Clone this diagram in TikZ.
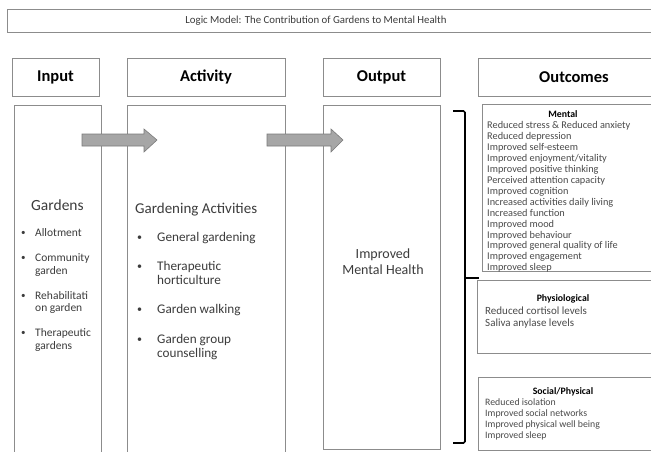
\documentclass[tikz,border=0pt]{standalone}
\usepackage{fontspec}
\setmainfont{Carlito}
\definecolor{boxgray}{HTML}{8C8C8C}
\definecolor{txtgray}{HTML}{3C3C3C}
\definecolor{listgray}{HTML}{4A4A4A}
\definecolor{arrfill}{HTML}{A6A6A6}
\definecolor{arrdraw}{HTML}{7A7A7A}
\tikzset{
  frame/.style={draw=boxgray, line width=0.7pt},
  header/.style={font=\fontsize{16.5}{18}\selectfont\bfseries, text=black},
  colhead/.style={anchor=base west, inner sep=0, text=txtgray},
  inlist/.style={anchor=base west, inner sep=0, text=txtgray, font=\fontsize{11.5}{13}\selectfont},
  actlist/.style={anchor=base west, inner sep=0, text=txtgray, font=\fontsize{13.2}{15}\selectfont},
  mlist/.style={anchor=base west, inner sep=0, text=listgray, font=\fontsize{10.3}{11}\selectfont},
  plist/.style={anchor=base west, inner sep=0, text=listgray, font=\fontsize{11}{12}\selectfont},
  slist/.style={anchor=base west, inner sep=0, text=listgray, font=\fontsize{9.8}{11}\selectfont},
  subhead/.style={anchor=base, inner sep=0, text=black, font=\fontsize{9.8}{11}\selectfont\bfseries},
  blockarrow/.style={fill=arrfill, draw=arrdraw, line width=0.6pt},
  brace/.style={draw=black, line width=1.6pt, rounded corners=1.5pt}
}
\begin{document}
\begin{tikzpicture}[x=1pt, y=-1pt]
\useasboundingbox (0,0) rectangle (651,451);
\fill[white] (0,0) rectangle (651,451);
% title
\draw[frame] (7,9) rectangle (660,32);
\node[inner sep=0, text=txtgray, font=\fontsize{10.8}{12}\selectfont] (title) at (316,20.5) {Logic Model: The Contribution of Gardens to Mental Health};
% headers
\draw[frame] (12,58) rectangle (99,96);
\node[header] (hin) at (55.5,77) {Input};
\draw[frame] (127,58) rectangle (285,96);
\node[header] (hact) at (206,77) {Activity};
\draw[frame] (323,58) rectangle (440,96);
\node[header] (hout) at (381.5,77) {Output};
\draw[frame] (478,58) rectangle (660,96);
\node[header] (houtc) at (574,77) {Outcomes};
% columns
\draw[frame] (14,105) rectangle (101,460);
\draw[frame] (127,105) rectangle (285,460);
\draw[frame] (323,105) rectangle (440,449);
% arrows
\draw[blockarrow] (82,134) -- (144,134) -- (144,129) -- (157,140) -- (144,152) -- (144,146) -- (82,146) -- cycle;
\draw[blockarrow] (267,134) -- (331,134) -- (331,129) -- (343,140) -- (331,152) -- (331,146) -- (267,146) -- cycle;
% input text
\node[colhead, font=\fontsize{15.5}{17}\selectfont] (gardens) at (31,210.5) {Gardens};
\foreach \y in {236.7,261.7,299,336.7} \node[inlist, font=\fontsize{9}{10}\selectfont] at (21,\y-1) {•};
\node[inlist] (i1) at (35,236.7) {Allotment};
\node[inlist] (i2) at (35,261.7) {Community};
\node[inlist] (i2b) at (35,274) {garden};
\node[inlist] (i3) at (35,299) {Rehabilitati};
\node[inlist] (i3b) at (35,311.3) {on garden};
\node[inlist] (i4) at (35,336.7) {Therapeutic};
\node[inlist] (i4b) at (35,349) {gardens};
% activity text
\node[colhead, font=\fontsize{15}{17}\selectfont] (gact) at (135,213.3) {Gardening Activities};
\foreach \y in {241,270,313.3,343.3} \node[actlist, font=\fontsize{10}{10}\selectfont] at (137,\y-1) {•};
\node[actlist] (a1) at (157,241) {General gardening};
\node[actlist] (a2) at (157,270) {Therapeutic};
\node[actlist] (a2b) at (157,284) {horticulture};
\node[actlist] (a3) at (157,313.3) {Garden walking};
\node[actlist] (a4) at (157,343.3) {Garden group};
\node[actlist] (a4b) at (157,357) {counselling};
% output text
\node[inner sep=0, text=txtgray, font=\fontsize{14}{16}\selectfont, align=center] (imp) at (383,262) {Improved\\Mental Health};
% bracket
\draw[brace] (453,111) -- (465,111) -- (465,443) -- (453,443);
\draw[brace, rounded corners=0] (465,278) -- (479,278);
% mental box
\draw[frame] (482,104) rectangle (660,271);
\node[subhead] (mhead) at (563,117) {Mental};
\foreach \t [count=\i from 0] in {Reduced stress \& Reduced anxiety, Reduced depression, Improved self-esteem, Improved enjoyment/vitality, Improved positive thinking, Perceived attention capacity, Improved cognition, Increased activities daily living, Increased function, Improved mood, Improved behaviour, Improved general quality of life, Improved engagement, Improved sleep}
  \node[mlist] (m\i) at (487,128.5+10.95*\i) {\t};
% physiological box
\draw[frame] (477,280) rectangle (660,353);
\node[subhead] (phead) at (563,301) {Physiological};
\node[plist] (p1) at (485,314) {Reduced cortisol levels};
\node[plist] (p2) at (485,326) {Saliva anylase levels};
% social box
\draw[frame] (478,377) rectangle (660,450);
\node[subhead] (shead) at (563,394) {Social/Physical};
\node[slist] (s1) at (485,405) {Reduced isolation};
\node[slist] (s2) at (485,416.5) {Improved social networks};
\node[slist] (s3) at (485,427.5) {Improved physical well being};
\node[slist] (s4) at (485,438.5) {Improved sleep};
\end{tikzpicture}
\end{document}
